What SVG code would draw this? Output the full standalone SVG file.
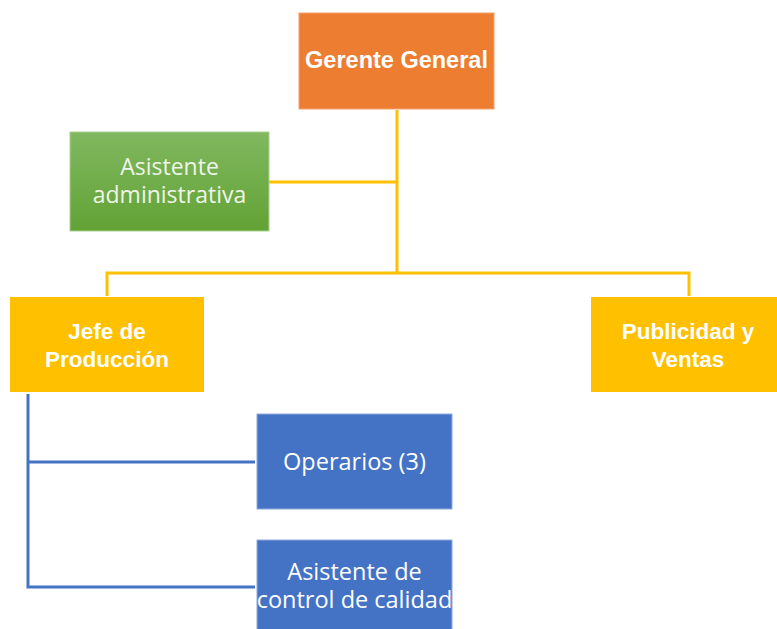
<svg xmlns="http://www.w3.org/2000/svg" width="777" height="629" viewBox="0 0 777 629">
<defs>
<linearGradient id="gGreen" x1="0" y1="0" x2="0" y2="1">
<stop offset="0" stop-color="#81b860"/>
<stop offset="1" stop-color="#62a235"/>
</linearGradient>
<style>
.bold{font-family:"Liberation Sans",Arial,sans-serif;font-weight:bold;fill:#ffffff;text-anchor:middle}
.reg{font-family:"Open Sans","Liberation Sans",sans-serif;fill:#ffffff;text-anchor:middle;font-size:23px}
.yl{stroke:#ffc000;stroke-width:3;fill:none}
.bl{stroke:#4472c4;stroke-width:3;fill:none}
</style>
</defs>
<rect width="777" height="629" fill="#ffffff"/>
<g id="connectors">
<path class="yl" d="M397 110 V273 M269 182 H397 M107 296 V273 H689 V296"/>
<path class="bl" d="M28 394 V587 H255 M28 462 H255"/>
</g>
<g id="gerente">
<rect x="299" y="13" width="195" height="96" fill="#ed7d31" stroke="#f4a070" stroke-width="1"/>
<text class="bold" x="396.5" y="68" font-size="23.5">Gerente General</text>
</g>
<g id="asistente-admin">
<rect x="70" y="132" width="199" height="99" fill="url(#gGreen)" stroke="#a9d18e" stroke-width="1"/>
<text class="reg" x="169.5" y="175" style="fill:#eef5e8">Asistente</text>
<text class="reg" x="169.5" y="203" style="fill:#eef5e8">administrativa</text>
</g>
<g id="jefe-produccion">
<rect x="10" y="297" width="194" height="95" fill="#ffc000"/>
<text class="bold" x="107" y="339" font-size="22.5">Jefe de</text>
<text class="bold" x="107" y="367" font-size="22.5">Producción</text>
</g>
<g id="publicidad-ventas">
<rect x="591" y="297" width="194" height="95" fill="#ffc000"/>
<text class="bold" x="688" y="339" font-size="22.5">Publicidad y</text>
<text class="bold" x="688" y="367" font-size="22.5">Ventas</text>
</g>
<g id="operarios">
<rect x="257" y="414" width="195" height="95" fill="#4472c4" stroke="#8faadc" stroke-width="1"/>
<text class="reg" x="354.5" y="470" font-size="23.5" style="font-size:23.5px">Operarios (3)</text>
</g>
<g id="asistente-calidad">
<rect x="257" y="540" width="195" height="95" fill="#4472c4" stroke="#8faadc" stroke-width="1"/>
<text class="reg" x="354.5" y="580" style="font-size:23.5px">Asistente de</text>
<text class="reg" x="354.5" y="608" style="font-size:23.5px">control de calidad</text>
</g>
</svg>
